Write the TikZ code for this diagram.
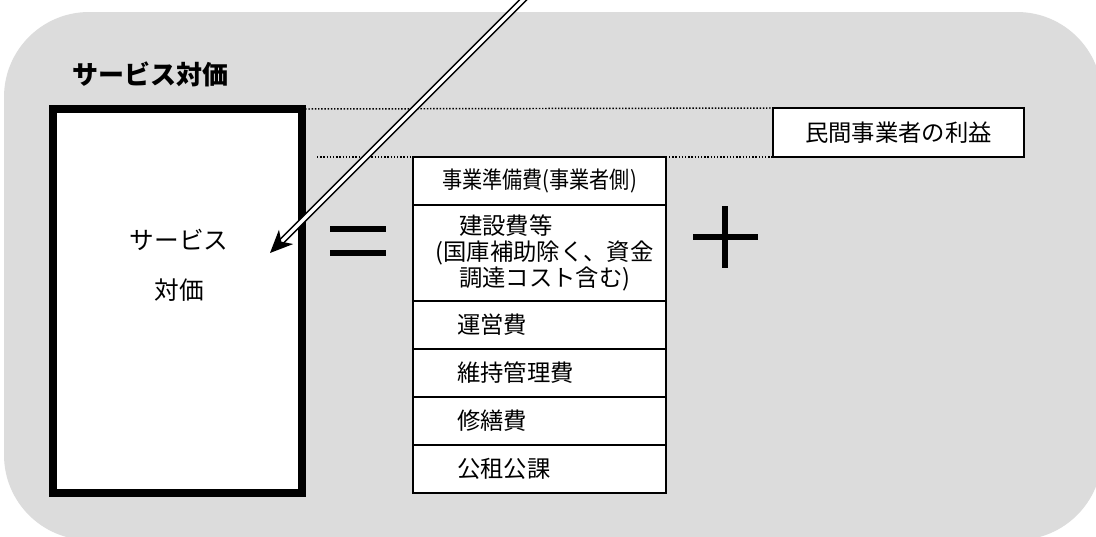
\documentclass[tikz,border=0pt]{standalone}
\usepackage{fontspec}
\usepackage{graphicx}
\setmainfont{Noto Sans CJK JP}
\usetikzlibrary{positioning,arrows.meta}
\definecolor{bggray}{RGB}{220,220,220}
\tikzset{
  costrow/.style={draw, line width=1.5pt, fill=white, outer sep=0pt, minimum width=189.75pt, minimum height=36pt, inner xsep=33pt, text width=123.75pt, align=left, font=\fontsize{17.5pt}{20pt}\selectfont},
  dotline/.style={line width=1.1pt, dash pattern=on 1.1pt off 1.3pt},
  bar/.style={line width=4.5pt},
}
\begin{document}
\begin{tikzpicture}[x=0.75pt,y=0.75pt,yscale=-1]
\useasboundingbox (0,0) rectangle (1096,536);
\clip (0,0) rectangle (1096,536);

%Shape: Rounded Rect
\fill[bggray, rounded corners=63.75pt] (4,12) rectangle (1102,540);

% Text Node
\node[font=\fontsize{19.5pt}{22pt}\selectfont\bfseries] (title) at (150,74) {サービス対価};

%Shape: Rectangle
\node[draw, line width=6pt, fill=white, outer sep=0pt, minimum width=186.75pt, minimum height=288pt] (svcbox) at (177.5,301) {};
% Text Node
\node[font=\fontsize{18.5pt}{37.5pt}\selectfont, align=center] (svclabel) at (179,265) {サービス\\対価};

%Straight Lines
\draw[bar] (330,229) -- (386,229);
\draw[bar] (330,253) -- (386,253);

%Shape: Rectangle
\node[draw, line width=1.5pt, fill=white, outer sep=0pt, minimum width=188.25pt, minimum height=36.75pt, font=\fontsize{17.5pt}{20pt}\selectfont] (profit) at (898.5,132.5) {民間事業者の利益};

%Straight Lines
\coordinate (dstart) at (317,157);
\draw[dotline] (svcbox.north east) -- (profit.north west);
\draw[dotline] (dstart) -- (profit.south west);

%Shape: Rectangle
\node[costrow, anchor=north west, align=center, inner xsep=4pt, text width=181.75pt] (prep) at (413,157) {\resizebox{146pt}{\height}{事業準備費(事業者側)}};
\node[costrow, below=0pt of prep, minimum height=72pt, inner xsep=17pt, text width=155.75pt, font=\fontsize{17.5pt}{19.5pt}\selectfont] (build) {\hspace*{1em}建設費等\\(国庫補助除く、資金\\\hspace*{1em}調達コスト含む)};
\node[costrow, below=0pt of build] (oper) {運営費};
\node[costrow, below=0pt of oper] (maint) {維持管理費};
\node[costrow, below=0pt of maint] (repair) {修繕費};
\node[costrow, below=0pt of repair] (tax) {公租公課};

%Straight Lines
\draw[bar] (693,237) -- (758,237);
\draw[bar] (725,206) -- (725,268);

%Straight Lines
\coordinate (arrfrom) at (537,-14);
\coordinate (arrto) at (270,253);
\draw[line width=1.2pt, double=white, double distance=2.6pt, -{Stealth[length=17pt,width=15pt,inset=5pt]}] (arrfrom) -- (arrto);

\end{tikzpicture}
\end{document}
